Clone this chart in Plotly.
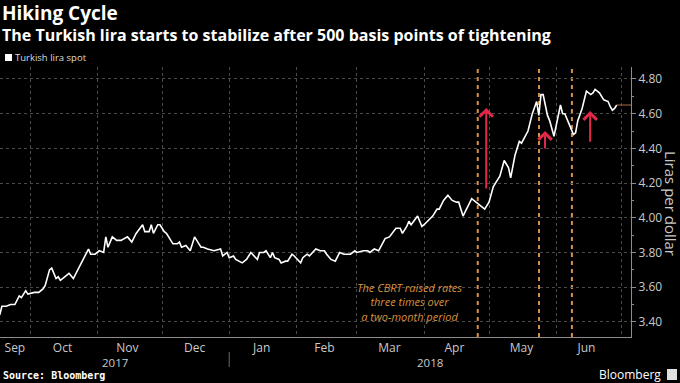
import plotly.graph_objects as go
import pandas as pd

# ---- data ----
dates = [
    "2017-09-17", "2017-09-18", "2017-09-20", "2017-09-22", "2017-09-24", "2017-09-26", "2017-09-27",
    "2017-09-29", "2017-09-30",
    "2017-10-03", "2017-10-05", "2017-10-07", "2017-10-08", "2017-10-10", "2017-10-11", "2017-10-13",
    "2017-10-14", "2017-10-15", "2017-10-17", "2017-10-19", "2017-10-21", "2017-10-23", "2017-10-26",
    "2017-10-28", "2017-10-29", "2017-10-31",
    "2017-11-02", "2017-11-04", "2017-11-05", "2017-11-06", "2017-11-08", "2017-11-10", "2017-11-12",
    "2017-11-15", "2017-11-17", "2017-11-19", "2017-11-22", "2017-11-23", "2017-11-25", "2017-11-26",
    "2017-11-27", "2017-11-29", "2017-11-30",
    "2017-12-02", "2017-12-03", "2017-12-06", "2017-12-08", "2017-12-09", "2017-12-10", "2017-12-12",
    "2017-12-14", "2017-12-16", "2017-12-18", "2017-12-19", "2017-12-20", "2017-12-22", "2017-12-25",
    "2017-12-28", "2017-12-29", "2017-12-31",
    "2018-01-01", "2018-01-03", "2018-01-04", "2018-01-07", "2018-01-09", "2018-01-11", "2018-01-14",
    "2018-01-15", "2018-01-17", "2018-01-18", "2018-01-20", "2018-01-21", "2018-01-22", "2018-01-24",
    "2018-01-25", "2018-01-27", "2018-01-28", "2018-01-30", "2018-01-31",
    "2018-02-03", "2018-02-04", "2018-02-06", "2018-02-07", "2018-02-10", "2018-02-12", "2018-02-14",
    "2018-02-15", "2018-02-17", "2018-02-19", "2018-02-21", "2018-02-23", "2018-02-26", "2018-02-28",
    "2018-03-01", "2018-03-04", "2018-03-06", "2018-03-07", "2018-03-09", "2018-03-11", "2018-03-14",
    "2018-03-16", "2018-03-19", "2018-03-21", "2018-03-22", "2018-03-24", "2018-03-25", "2018-03-26",
    "2018-03-29", "2018-03-31",
    "2018-04-01", "2018-04-05", "2018-04-07", "2018-04-08", "2018-04-10", "2018-04-12", "2018-04-14",
    "2018-04-16", "2018-04-17", "2018-04-19", "2018-04-21", "2018-04-23", "2018-04-25", "2018-04-27",
    "2018-04-29",
    "2018-05-01", "2018-05-03", "2018-05-05", "2018-05-06", "2018-05-08", "2018-05-10", "2018-05-11",
    "2018-05-13", "2018-05-15", "2018-05-16", "2018-05-19", "2018-05-20", "2018-05-21", "2018-05-23",
    "2018-05-24", "2018-05-25", "2018-05-26", "2018-05-27", "2018-05-28", "2018-05-29", "2018-05-31",
    "2018-06-01", "2018-06-03", "2018-06-04", "2018-06-05", "2018-06-07", "2018-06-09", "2018-06-10",
    "2018-06-11", "2018-06-13", "2018-06-14", "2018-06-15", "2018-06-17", "2018-06-18", "2018-06-19",
    "2018-06-21", "2018-06-23", "2018-06-25", "2018-06-26", "2018-06-27", "2018-06-28", "2018-06-29",
]
lira = [
    3.44, 3.49, 3.49, 3.50, 3.50, 3.55, 3.54, 3.58, 3.56,
    3.57, 3.57, 3.59, 3.61, 3.70, 3.71, 3.65, 3.66, 3.64, 3.66, 3.68, 3.65, 3.70, 3.77, 3.82, 3.79, 3.79,
    3.81, 3.80, 3.89, 3.83, 3.89, 3.87, 3.87, 3.89, 3.86, 3.91, 3.96, 3.92, 3.92, 3.96, 3.91, 3.96, 3.96,
    3.92, 3.91, 3.85, 3.85, 3.86, 3.83, 3.84, 3.81, 3.89, 3.85, 3.83, 3.83, 3.82, 3.81, 3.82, 3.78, 3.80,
    3.77, 3.78, 3.76, 3.74, 3.76, 3.80, 3.76, 3.80, 3.80, 3.81, 3.77, 3.80, 3.77, 3.76, 3.74, 3.75, 3.75,
    3.79, 3.78,
    3.74, 3.77, 3.79, 3.78, 3.82, 3.81, 3.81, 3.79, 3.76, 3.75, 3.80, 3.79, 3.79, 3.81,
    3.80, 3.81, 3.81, 3.80, 3.82, 3.81, 3.88, 3.89, 3.94, 3.94, 3.91, 3.95, 3.98, 3.96, 4.01, 3.95,
    3.96, 4.01, 4.05, 4.05, 4.10, 4.13, 4.10, 4.09, 4.09, 4.01, 4.06, 4.11, 4.09, 4.07, 4.05,
    4.09, 4.18, 4.22, 4.24, 4.33, 4.29, 4.23, 4.36, 4.44, 4.43, 4.50, 4.56, 4.60, 4.67, 4.59, 4.71, 4.71,
    4.65, 4.59, 4.56, 4.47,
    4.53, 4.65, 4.60, 4.60, 4.54, 4.48, 4.49, 4.56, 4.63, 4.69, 4.73, 4.71, 4.72, 4.74, 4.72, 4.68, 4.67,
    4.64, 4.62, 4.63, 4.65,
]
hike_dates = ["2018-04-25 19:00", "2018-05-24 02:00", "2018-06-08 07:00"]
month_label_dates = ["2017-09-24", "2017-10-16", "2017-11-15", "2017-12-16", "2018-01-16", "2018-02-14",
                     "2018-03-16", "2018-04-15", "2018-05-16", "2018-06-15"]
month_labels = ["Sep", "Oct", "Nov", "Dec", "Jan", "Feb", "Mar", "Apr", "May", "Jun"]
y_ticks = [3.40, 3.60, 3.80, 4.00, 4.20, 4.40, 4.60, 4.80]

x_start = pd.Timestamp("2017-09-17 03:00")
x_end = pd.Timestamp("2018-07-05 14:00")
y_range = [3.313, 4.869]

ORANGE = "#d8903f"
RED = "#e3284a"
GRID = "#4a4a4a"
AXIS = "#8c8c8c"
TXT = "#c9c9c9"

# plot area in pixels: x 0..631, y 67..337
PL, PR, PT, PB = 0, 631, 67, 337
def px(x):
    return (x - PL) / (PR - PL)
def py(y):
    return (PB - y) / (PB - PT)

fig = go.Figure()
fig.add_trace(go.Scatter(x=dates, y=lira, mode="lines",
                         line=dict(color="#ffffff", width=1.6), showlegend=False, hoverinfo="skip"))
# last value line
fig.add_trace(go.Scatter(x=[dates[-1], x_end], y=[lira[-1], lira[-1]], mode="lines",
                         line=dict(color="#8a5a3a", width=1.2), showlegend=False, hoverinfo="skip"))

shapes = []
for d in hike_dates:
    shapes.append(dict(type="line", xref="x", yref="paper", x0=d, x1=d, y0=0, y1=1,
                       line=dict(color=ORANGE, width=2, dash="4px,4px"), layer="below"))
# year divider
shapes.append(dict(type="line", xref="x", yref="paper", x0="2018-01-01", x1="2018-01-01",
                   y0=py(352), y1=py(367), line=dict(color="#6a6a6a", width=1)))
# legend square
shapes.append(dict(type="rect", xref="paper", yref="paper", x0=px(5), x1=px(12), y0=py(61), y1=py(54),
                   fillcolor="#ffffff", line=dict(width=0)))
# bloomberg icon
shapes.append(dict(type="rect", xref="paper", yref="paper", x0=px(667), x1=px(677), y0=py(380), y1=py(369),
                   fillcolor="#e0e0e0", line=dict(width=0)))

annotations = [
    dict(text="<b>Hiking Cycle</b>", x=px(0), y=py(13), xref="paper", yref="paper", xanchor="left",
         yanchor="middle", showarrow=False, font=dict(size=19, color="#ffffff", family="Open Sans")),
    dict(text="<b>The Turkish lira starts to stabilize after 500 basis points of tightening</b>",
         x=px(0), y=py(35), xref="paper", yref="paper", xanchor="left", yanchor="middle",
         showarrow=False, font=dict(size=16, color="#ffffff", family="Open Sans")),
    dict(text="Turkish lira spot", x=px(13), y=py(58), xref="paper", yref="paper", xanchor="left",
         yanchor="middle", showarrow=False, font=dict(size=9.5, color="#dddddd", family="Open Sans")),
    dict(text="<b>Source: Bloomberg</b>", x=px(1), y=py(375), xref="paper", yref="paper", xanchor="left",
         yanchor="middle", showarrow=False, font=dict(size=10, color="#ffffff", family="DejaVu Sans Mono")),
    dict(text="Bloomberg", x=px(663), y=py(374), xref="paper", yref="paper", xanchor="right",
         yanchor="middle", showarrow=False, font=dict(size=12, color="#ffffff", family="Open Sans")),
    dict(text="Liras per dollar", x=px(671), y=py(203), xref="paper", yref="paper", xanchor="center",
         yanchor="middle", textangle=90, showarrow=False,
         font=dict(size=15, color=TXT, family="Open Sans")),
    dict(text="2017", x=x_start + (pd.Timestamp("2018-01-01") - x_start) / 2, y=py(362), xref="x",
         yref="paper", showarrow=False, yanchor="middle", font=dict(size=11.5, color=TXT, family="Open Sans")),
    dict(text="2018", x=pd.Timestamp("2018-01-01") + (x_end - pd.Timestamp("2018-01-01")) / 2, y=py(362),
         xref="x", yref="paper", showarrow=False, yanchor="middle",
         font=dict(size=11.5, color=TXT, family="Open Sans")),
    dict(text="<i>The CBRT raised rates<br>three times over<br>a two-month period</i>",
         x="2018-03-25 12:00", y=3.515, xref="x", yref="y", showarrow=False, align="center",
         font=dict(size=11, color=ORANGE, family="Open Sans")),
]
arrows = [("2018-04-29 17:00", 4.16, 4.633), ("2018-05-26 21:00", 4.39, 4.50), ("2018-06-16 17:00", 4.43, 4.615)]
for xd, y0, y1 in arrows:
    annotations.append(dict(text="", x=xd, y=y1, ax=xd, ay=y0, xref="x", yref="y", axref="x", ayref="y",
                            showarrow=True, arrowhead=4, arrowsize=1.3, arrowwidth=2, arrowcolor=RED))

fig.update_layout(
    width=680, height=383,
    margin=dict(l=PL, r=680 - PR, t=PT, b=383 - PB, autoexpand=False),
    paper_bgcolor="#000000", plot_bgcolor="#000000",
    showlegend=False,
    shapes=shapes, annotations=annotations,
    xaxis=dict(type="date", range=[x_start, x_end], tickmode="array", tickvals=month_label_dates,
               ticktext=month_labels, ticks="", showgrid=False, zeroline=False, automargin=False,
               showline=True, linecolor=AXIS, linewidth=1,
               tickfont=dict(size=12, color=TXT, family="Open Sans"),
               minor=dict(tickmode="linear", tick0="2017-10-01", dtick="M1", showgrid=True,
                          gridcolor=GRID, griddash="dot", gridwidth=1, ticks="")),
    yaxis=dict(side="right", range=y_range, tickmode="array", tickvals=y_ticks, automargin=False,
               tickformat=".2f", ticks="outside", ticklen=4, tickcolor=AXIS,
               showline=True, linecolor=AXIS, linewidth=1, zeroline=False,
               showgrid=True, gridcolor=GRID, griddash="dot", gridwidth=1,
               tickfont=dict(size=12, color=TXT, family="Open Sans"),
               minor=dict(tickmode="linear", tick0=3.3, dtick=0.1, ticks="outside", ticklen=2,
                          tickcolor=AXIS, showgrid=False)),
)

fig.write_html("out.html", config={"displayModeBar": False},
               post_script="document.body.style.margin='0';document.body.style.padding='0';")
